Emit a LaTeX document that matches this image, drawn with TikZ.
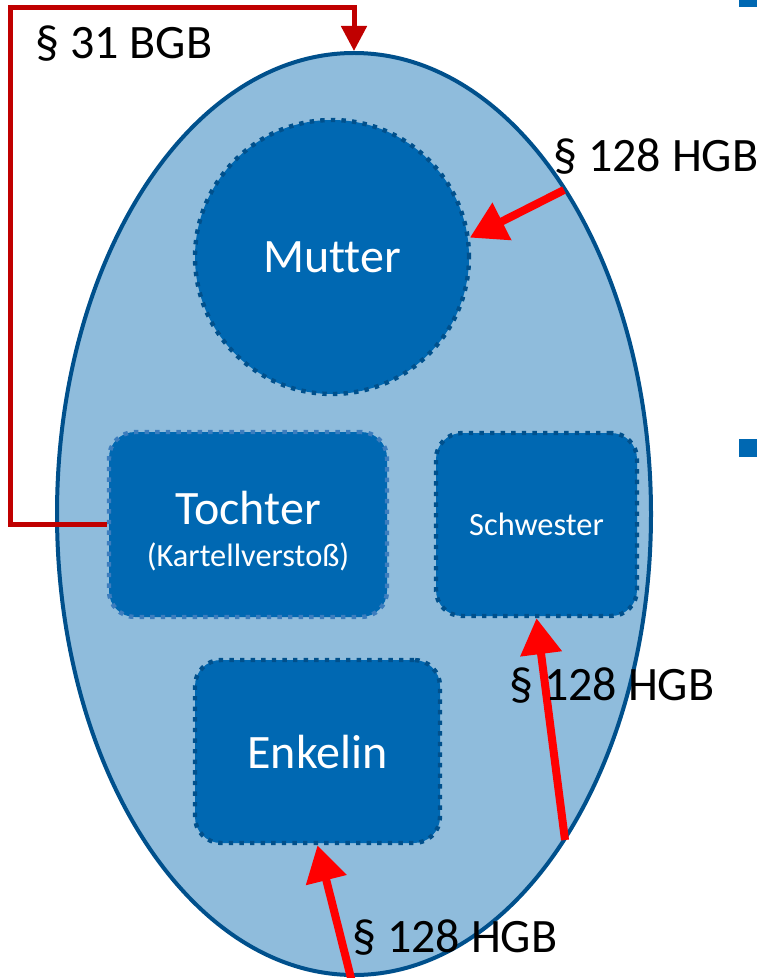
\documentclass[tikz,border=0pt]{standalone}
\usepackage{fontspec}
\setmainfont[Ligatures=NoCommon]{Carlito}
\usetikzlibrary{arrows.meta,shapes.geometric}
\definecolor{famfill}{RGB}{143,188,220}
\definecolor{famline}{RGB}{0,80,140}
\definecolor{unitfill}{RGB}{0,104,178}
\definecolor{unitline}{RGB}{0,80,140}
\definecolor{tochline}{RGB}{60,125,190}
\definecolor{bgbred}{RGB}{192,0,0}
\definecolor{hgbred}{RGB}{255,0,0}

\begin{document}
\begin{tikzpicture}[x=0.5pt,y=-0.5pt,
  unit/.style={fill=unitfill, draw=unitline, line width=2.2pt,
    dash pattern=on 2.2pt off 3.1pt, text=white, inner sep=0pt, align=center},
  box/.style={unit, rectangle, rounded corners=13pt},
  big/.style={font=\fontsize{24}{21}\selectfont},
  small/.style={font=\fontsize{16.2}{21}\selectfont},
  lawlabel/.style={font=\fontsize{24}{28}\selectfont, anchor=base west, inner sep=0pt},
  bgbarrow/.style={draw=bgbred, line width=2.5pt,
    -{Triangle[width=12.5pt,length=12.5pt]}},
  hgbarrow/.style={draw=hgbred, line width=4pt,
    -{Triangle[width=20pt,length=18pt]}},
]
\useasboundingbox (0,0) rectangle (761,978);

% bullet squares at the right margin
\fill[unitfill] (739,-2) rectangle (757,7);
\fill[unitfill] (739,439) rectangle (757,457);

% the group of companies
\node[ellipse, fill=famfill, draw=famline, line width=2pt,
  minimum width=297pt, minimum height=461pt, inner sep=0pt] (family) at (354,514) {};

% members of the group
\node[unit, circle, minimum size=137pt, big] (mutter) at (332,257) {Mutter};
\node[box, draw=tochline, minimum width=139pt, minimum height=92.5pt] (tochter) at (248,524.5) {};
\node[text=white, align=center, inner sep=0pt, big] (tochtertext) at (248,531)
  {Tochter\\{\fontsize{16.2}{21}\selectfont(Kartellverstoß)}};
\node[box, small, minimum width=100.5pt, minimum height=91.5pt] (schwester) at (536.5,524.5) {Schwester};
\node[box, big, minimum width=122.5pt, minimum height=91.5pt] (enkelin) at (317.5,751.5) {Enkelin};

% liability links
\draw[bgbarrow] (tochter.west) -| (10,8) -| (family.north);

\coordinate (hgbA) at (564,190);
\coordinate (hgbB) at (565,840);
\coordinate (hgbC) at (352,982);
\draw[hgbarrow] (hgbA) -- (mutter.8);
\draw[hgbarrow] (hgbB) -- (schwester.south);
\draw[hgbarrow] (hgbC) -- (enkelin.south);

% statutory references
\node[lawlabel] (bgb) at (35,59) {§ 31 BGB};
\node[lawlabel] (hgbmutter) at (553,172) {§ 128 HGB};
\node[lawlabel] (hgbschwester) at (509,700) {§ 128 HGB};
\node[lawlabel] (hgbenkelin) at (352,952) {§ 128 HGB};
\end{tikzpicture}
\end{document}
